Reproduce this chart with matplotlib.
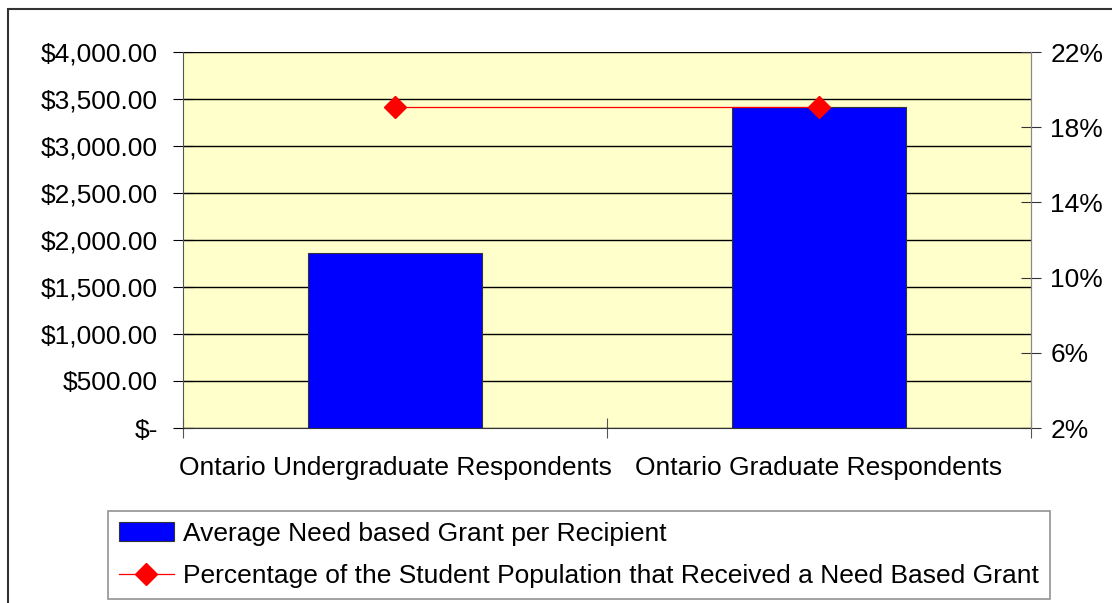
import matplotlib
matplotlib.use("Agg")
import matplotlib.pyplot as plt
from matplotlib.patches import Rectangle
from matplotlib.ticker import FuncFormatter

plt.rcParams["font.family"] = ["Liberation Sans", "DejaVu Sans"]

# Grant data by respondent group
groups = ["Ontario Undergraduate Respondents", "Ontario Graduate Respondents"]
avg_grant = [1862, 3415]
pct_received = [19.1, 19.1]

bar_label = "Average Need based Grant per Recipient"
line_label = "Percentage of the Student Population that Received a Need Based Grant"

FS = 19


def dollar_fmt(v, pos):
    if v == 0:
        return "$-"
    return f"${v:,.2f}"


fig = plt.figure(figsize=(11.12, 6.03), dpi=100)
ax = fig.add_axes([183 / 1112, 1 - 428 / 603, (1031 - 183) / 1112, (428 - 52) / 603])
ax.set_facecolor("#FFFFCC")

x = list(range(len(groups)))
bars = ax.bar(x, avg_grant, width=0.41, color="#0000FF", edgecolor="#333333",
              linewidth=0.8, label=bar_label, zorder=3)

ax.set_xlim(-0.5, 1.5)
ax.set_ylim(0, 4000)
ax.set_yticks(range(0, 4001, 500))
ax.yaxis.set_major_formatter(FuncFormatter(dollar_fmt))
ax.yaxis.grid(True, color="black", linewidth=1.0, zorder=1)
ax.set_axisbelow(True)

# category labels centred, tick marks on the category boundaries
ax.set_xticks([-0.5, 0.5, 1.5])
ax.set_xticklabels([])
ax.set_xticks(x, minor=True)
ax.set_xticklabels(groups, minor=True)
ax.tick_params(axis="x", which="major", direction="inout", length=14, color="#555555")
ax.tick_params(axis="x", which="minor", length=0, pad=20, labelsize=FS)
ax.tick_params(axis="y", direction="inout", length=14, labelsize=FS, pad=11)

ax.spines["top"].set_visible(False)
ax.spines["left"].set_color("#555555")
ax.spines["right"].set_color("#888888")
ax.spines["bottom"].set_color("#333333")

ax2 = ax.twinx()
ax2.set_ylim(2, 22)
ax2.set_yticks(range(2, 23, 4))
ax2.yaxis.set_major_formatter(FuncFormatter(lambda v, p: f"{v:.0f}%"))
ax2.tick_params(axis="y", direction="inout", length=14, labelsize=FS, pad=7, color="#333333")
line, = ax2.plot(x, pct_received, color="#FF0000", linewidth=0.9, marker="D",
                 markersize=11.5, markerfacecolor="#FF0000", markeredgecolor="#FF0000",
                 label=line_label, zorder=4)
for side in ["top", "left", "bottom"]:
    ax2.spines[side].set_visible(False)
ax2.spines["right"].set_color("#888888")

leg = fig.legend(handles=[bars, line], labels=[bar_label, line_label],
                 loc="upper left", bbox_to_anchor=(108 / 1112, 1 - 511 / 603),
                 borderaxespad=0, fontsize=FS, frameon=True, fancybox=False,
                 edgecolor="#777777", handlelength=2.1, handleheight=0.7,
                 labelspacing=0.7, borderpad=0.4, handletextpad=0.35)
leg.get_frame().set_linewidth(1.2)

# outer chart border
fig.patches.append(Rectangle((8 / 1112, -0.1), 1.2, 1 - 9 / 603 + 0.1,
                             transform=fig.transFigure, fill=False,
                             edgecolor="#333333", linewidth=1.5))

fig.savefig("out.png", dpi=100)
